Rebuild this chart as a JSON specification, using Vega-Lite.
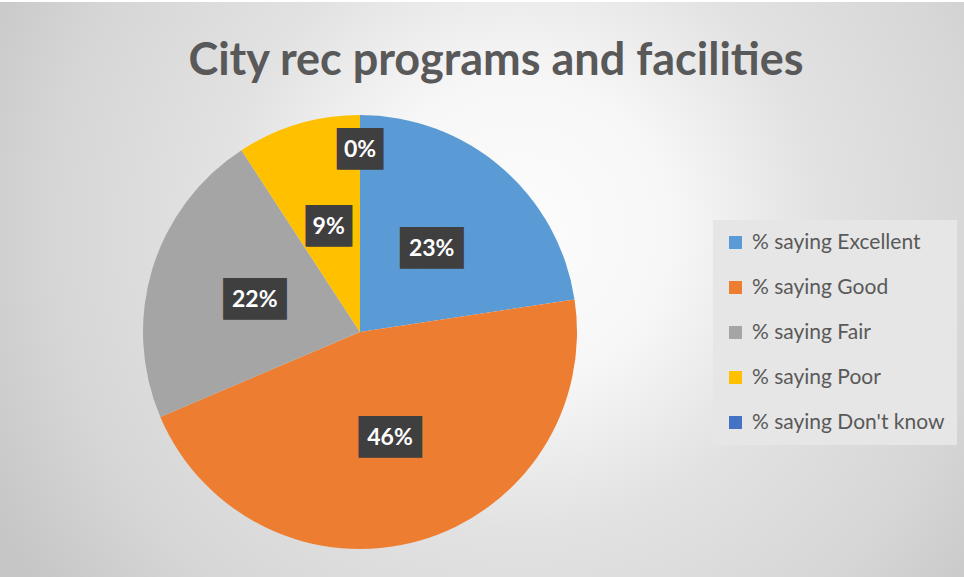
{
  "$schema": "https://vega.github.io/schema/vega-lite/v6.json",
  "autosize": {"type": "none"},
  "width": 1208,
  "height": 660,
  "padding": {"left": -244, "top": 2, "right": 0, "bottom": -85},
  "background": "#ffffff",
  "title": {
    "text": "City rec programs and facilities",
    "font": "Lato",
    "fontSize": 45,
    "fontWeight": "bold",
    "color": "#595959",
    "anchor": "middle",
    "dx": 136,
    "offset": -82
  },
  "data": {
    "values": [
      {"rank": 1, "category": "% saying Excellent", "share": 0.226},
      {"rank": 2, "category": "% saying Good", "share": 0.46},
      {"rank": 3, "category": "% saying Fair", "share": 0.222},
      {"rank": 4, "category": "% saying Poor", "share": 0.092},
      {"rank": 5, "category": "% saying Don't know", "share": 0}
    ]
  },
  "transform": [
    {"calculate": "datum.share >= 0.1 ? '███' : '▕██▏'", "as": "box"}
  ],
  "layer": [
    {
      "data": {"values": [{"panel": "chart area"}]},
      "mark": {
        "type": "rect",
        "color": {
          "gradient": "radial",
          "x1": 0.632, "y1": 0.4156, "r1": 0,
          "x2": 0.632, "y2": 0.4156, "r2": 0.497,
          "stops": [
            {"offset": 0, "color": "#fcfcfc"},
            {"offset": 0.25, "color": "#f7f7f7"},
            {"offset": 0.5, "color": "#e2e2e2"},
            {"offset": 0.78, "color": "#d6d6d6"},
            {"offset": 0.97, "color": "#c8c8c8"},
            {"offset": 1, "color": "#c6c6c6"}
          ]
        }
      },
      "encoding": {}
    },
    {
      "mark": {"type": "arc", "outerRadius": 217},
      "encoding": {
        "theta": {"field": "share", "type": "quantitative", "stack": true},
        "order": {"field": "rank", "type": "ordinal"},
        "color": {
          "field": "category",
          "type": "nominal",
          "scale": {
            "domain": ["% saying Excellent", "% saying Good", "% saying Fair", "% saying Poor", "% saying Don't know"],
            "range": ["#5B9BD5", "#ED7D31", "#A5A5A5", "#FFC000", "#4472C4"]
          },
          "legend": {
            "title": null,
            "orient": "none",
            "legendX": 957,
            "legendY": 218,
            "labelFont": "Lato",
            "labelFontSize": 21,
            "labelColor": "#595959",
            "symbolType": "square",
            "symbolSize": 169,
            "symbolStrokeWidth": 0,
            "rowPadding": 23,
            "padding": 12,
            "labelOffset": 6,
            "fillColor": "#e6e6e6",
            "labelLimit": 400
          }
        }
      }
    },
    {
      "mark": {
        "type": "text",
        "font": "DejaVu Sans Mono",
        "fontSize": 35,
        "color": "#3f3f3f",
        "baseline": "middle",
        "align": "center",
        "radius": {"expr": "datum.share == 0 ? 182 : 110"}
      },
      "encoding": {
        "theta": {"field": "share", "type": "quantitative", "stack": true},
        "order": {"field": "rank", "type": "ordinal"},
        "text": {"field": "box", "type": "nominal"}
      }
    },
    {
      "mark": {
        "type": "text",
        "font": "Lato",
        "fontSize": 23,
        "fontWeight": "bold",
        "color": "#ffffff",
        "baseline": "middle",
        "align": "center",
        "radius": {"expr": "datum.share == 0 ? 182 : 110"}
      },
      "encoding": {
        "theta": {"field": "share", "type": "quantitative", "stack": true},
        "order": {"field": "rank", "type": "ordinal"},
        "text": {"field": "share", "type": "quantitative", "format": ".0%"}
      }
    }
  ],
  "config": {
    "font": "Lato",
    "view": {"stroke": null}
  }
}
